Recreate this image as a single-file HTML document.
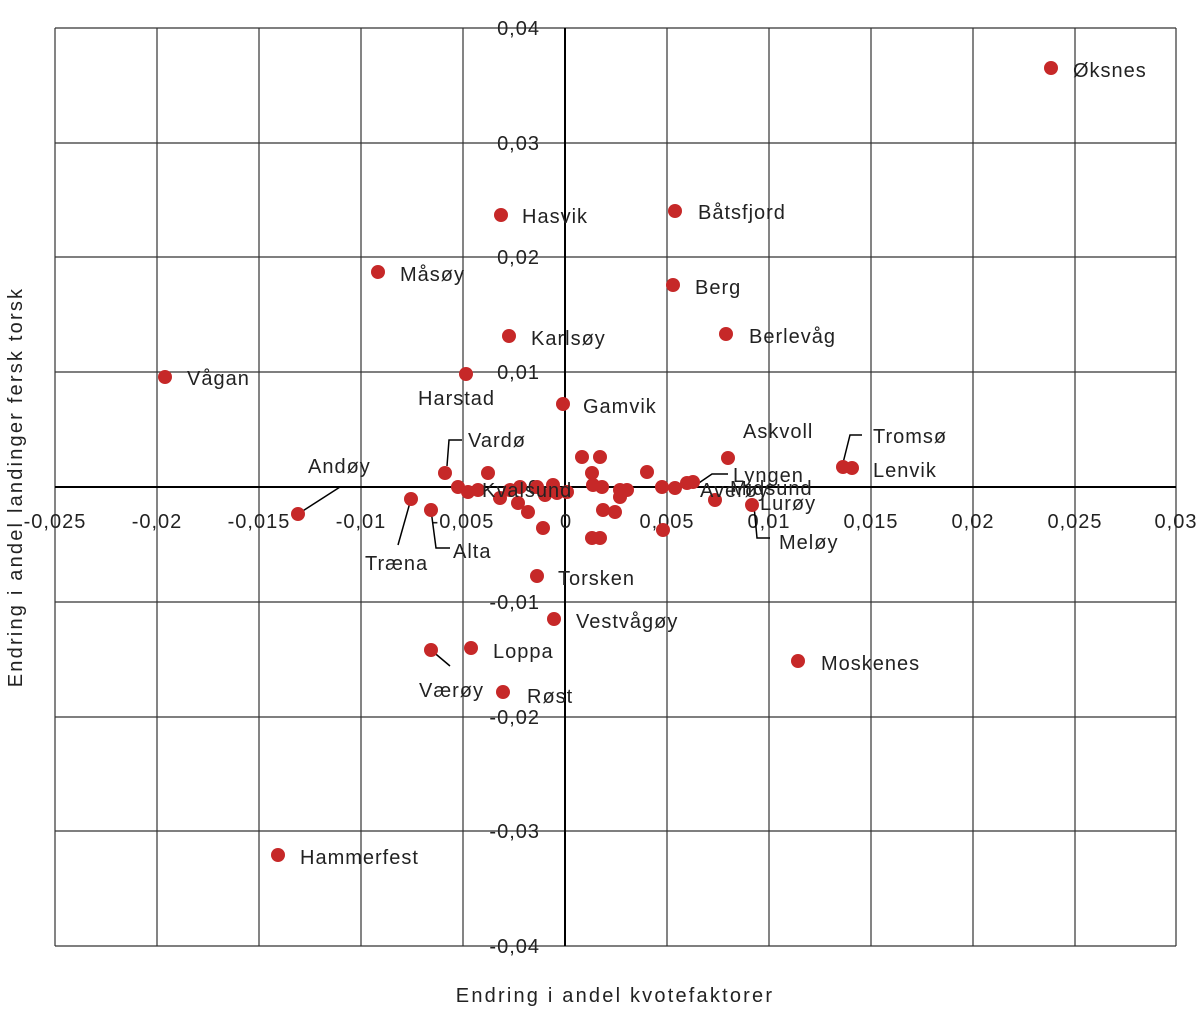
<!DOCTYPE html><html><head><style>body{margin:0;background:#fff}svg{display:block}text{font-family:"Liberation Sans",sans-serif;font-size:20px;fill:#222;letter-spacing:1px}.l{letter-spacing:2.2px}</style></head><body>
<svg width="1200" height="1027" viewBox="0 0 1200 1027">
<g stroke="#333" stroke-width="1.2">
<line x1="55" y1="28" x2="1176" y2="28"/><line x1="55" y1="143" x2="1176" y2="143"/><line x1="55" y1="257" x2="1176" y2="257"/><line x1="55" y1="372" x2="1176" y2="372"/><line x1="55" y1="602" x2="1176" y2="602"/><line x1="55" y1="717" x2="1176" y2="717"/><line x1="55" y1="831" x2="1176" y2="831"/><line x1="55" y1="946" x2="1176" y2="946"/>
<line x1="55" y1="28" x2="55" y2="946"/><line x1="157" y1="28" x2="157" y2="946"/><line x1="259" y1="28" x2="259" y2="946"/><line x1="361" y1="28" x2="361" y2="946"/><line x1="463" y1="28" x2="463" y2="946"/><line x1="667" y1="28" x2="667" y2="946"/><line x1="769" y1="28" x2="769" y2="946"/><line x1="871" y1="28" x2="871" y2="946"/><line x1="973" y1="28" x2="973" y2="946"/><line x1="1075" y1="28" x2="1075" y2="946"/><line x1="1176" y1="28" x2="1176" y2="946"/>
</g>
<g stroke="#000" stroke-width="2"><line x1="55" y1="487" x2="1176" y2="487"/><line x1="565" y1="28" x2="565" y2="946"/></g>
<g text-anchor="middle">
<text x="55" y="528">-0,025</text><text x="157" y="528">-0,02</text><text x="259" y="528">-0,015</text><text x="361" y="528">-0,01</text><text x="463" y="528">-0,005</text><text x="566" y="528">0</text><text x="667" y="528">0,005</text><text x="769" y="528">0,01</text><text x="871" y="528">0,015</text><text x="973" y="528">0,02</text><text x="1075" y="528">0,025</text><text x="1176" y="528">0,03</text>
</g>
<g text-anchor="end">
<text x="540" y="35">0,04</text><text x="540" y="150">0,03</text><text x="540" y="264">0,02</text><text x="540" y="379">0,01</text><text x="540" y="494">0</text><text x="540" y="609">-0,01</text><text x="540" y="724">-0,02</text><text x="540" y="838">-0,03</text><text x="540" y="953">-0,04</text>
</g>
<text x="615" y="1002" text-anchor="middle" class="l">Endring i andel kvotefaktorer</text>
<text transform="translate(22,487) rotate(-90)" text-anchor="middle" class="l">Endring i andel landinger fersk torsk</text>
<g stroke="#000" stroke-width="1.5" fill="none">
<polyline points="447,466 449,440 462,440"/><line x1="298" y1="514" x2="340" y2="487"/><line x1="411" y1="499" x2="398" y2="545"/><polyline points="431,510 436,548 450,548"/><polyline points="843,463 850,435 862,435"/><line x1="431" y1="650" x2="450" y2="666"/><polyline points="693,487 712,474 728,474"/><polyline points="754,506 757,538 770,538"/>
</g>
<g fill="#c62828">
<circle cx="1051" cy="68" r="7"/><circle cx="501" cy="215" r="7"/><circle cx="675" cy="211" r="7"/><circle cx="378" cy="272" r="7"/><circle cx="673" cy="285" r="7"/><circle cx="509" cy="336" r="7"/><circle cx="726" cy="334" r="7"/><circle cx="165" cy="377" r="7"/><circle cx="466" cy="374" r="7"/><circle cx="563" cy="404" r="7"/><circle cx="843" cy="467" r="7"/><circle cx="852" cy="468" r="7"/><circle cx="298" cy="514" r="7"/><circle cx="411" cy="499" r="7"/><circle cx="431" cy="510" r="7"/><circle cx="537" cy="576" r="7"/><circle cx="554" cy="619" r="7"/><circle cx="798" cy="661" r="7"/><circle cx="471" cy="648" r="7"/><circle cx="431" cy="650" r="7"/><circle cx="503" cy="692" r="7"/><circle cx="278" cy="855" r="7"/><circle cx="752" cy="505" r="7"/>
<circle cx="445" cy="473" r="7"/><circle cx="458" cy="487" r="7"/><circle cx="468" cy="492" r="7"/><circle cx="488" cy="473" r="7"/><circle cx="500" cy="498" r="7"/><circle cx="520" cy="487" r="7"/><circle cx="518" cy="503" r="7"/><circle cx="528" cy="512" r="7"/><circle cx="537" cy="487" r="7"/><circle cx="543" cy="528" r="7"/><circle cx="553" cy="485" r="7"/><circle cx="557" cy="493" r="7"/><circle cx="567" cy="492" r="7"/><circle cx="582" cy="457" r="7"/><circle cx="600" cy="457" r="7"/><circle cx="592" cy="473" r="7"/><circle cx="593" cy="485" r="7"/><circle cx="602" cy="487" r="7"/><circle cx="603" cy="510" r="7"/><circle cx="615" cy="512" r="7"/><circle cx="620" cy="490" r="7"/><circle cx="627" cy="490" r="7"/><circle cx="620" cy="497" r="7"/><circle cx="592" cy="538" r="7"/><circle cx="600" cy="538" r="7"/><circle cx="647" cy="472" r="7"/><circle cx="662" cy="487" r="7"/><circle cx="663" cy="530" r="7"/><circle cx="675" cy="488" r="7"/><circle cx="687" cy="483" r="7"/><circle cx="693" cy="482" r="7"/><circle cx="715" cy="500" r="7"/><circle cx="728" cy="458" r="7"/><circle cx="478" cy="490" r="7"/><circle cx="510" cy="490" r="7"/><circle cx="545" cy="495" r="7"/>
</g>
<g class="l">
<text x="1073" y="77">Øksnes</text><text x="522" y="223">Hasvik</text><text x="698" y="219">Båtsfjord</text><text x="400" y="281">Måsøy</text><text x="695" y="294">Berg</text><text x="531" y="345">Karlsøy</text><text x="749" y="343">Berlevåg</text><text x="187" y="385">Vågan</text><text x="418" y="405">Harstad</text><text x="583" y="413">Gamvik</text><text x="743" y="438">Askvoll</text><text x="873" y="443">Tromsø</text><text x="873" y="477">Lenvik</text><text x="308" y="473">Andøy</text><text x="468" y="447">Vardø</text><text x="482" y="497">Kvalsund</text><text x="733" y="482">Lyngen</text><text x="700" y="497">Averøy</text><text x="730" y="495">Midsund</text><text x="760" y="510">Lurøy</text><text x="779" y="549">Meløy</text><text x="365" y="570">Træna</text><text x="453" y="558">Alta</text><text x="558" y="585">Torsken</text><text x="576" y="628">Vestvågøy</text><text x="821" y="670">Moskenes</text><text x="493" y="658">Loppa</text><text x="419" y="697">Værøy</text><text x="527" y="703">Røst</text><text x="300" y="864">Hammerfest</text>
</g>
</svg></body></html>
